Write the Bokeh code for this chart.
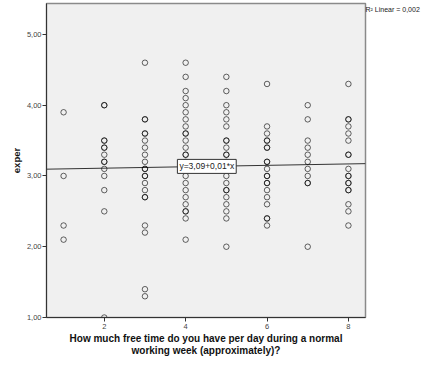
from bokeh.plotting import figure
from bokeh.models import Label, FixedTicker, Range1d, LinearAxis
from bokeh.embed import file_html
from bokeh.resources import INLINE

# ---- data ----
x1 = [3.9, 3.0, 2.3, 2.1]
x2 = [4.0, 4.0, 3.5, 3.5, 3.4, 3.4, 3.3, 3.2, 3.2, 3.1, 3.0, 2.8, 2.5, 1.0]
x3 = [4.6, 3.8, 3.8, 3.6, 3.6, 3.5, 3.4, 3.3, 3.2, 3.1, 3.1, 3.0, 3.0, 2.9, 2.8, 2.7, 2.7, 2.3, 2.2, 1.4, 1.3]
x4 = [4.6, 4.4, 4.2, 4.1, 4.0, 3.9, 3.8, 3.7, 3.6, 3.6, 3.5, 3.4, 3.3, 3.3, 3.2, 3.1,
      3.0, 2.9, 2.8, 2.7, 2.6, 2.5, 2.5, 2.4, 2.1]
x5 = [4.4, 4.2, 4.0, 3.9, 3.8, 3.7, 3.5, 3.5, 3.4, 3.3, 3.3, 3.2, 3.1,
      3.0, 2.9, 2.8, 2.8, 2.7, 2.6, 2.5, 2.4, 2.0]
x6 = [4.3, 3.7, 3.6, 3.5, 3.5, 3.4, 3.4, 3.2, 3.2, 3.1, 3.0, 3.0, 2.9, 2.9, 2.8, 2.7, 2.6, 2.4, 2.4, 2.3]
x7 = [4.0, 3.8, 3.5, 3.4, 3.3, 3.2, 3.1, 3.0, 2.9, 2.9, 2.0]
x8 = [4.3, 3.8, 3.8, 3.7, 3.6, 3.5, 3.3, 3.3, 3.1, 3.0, 3.0, 2.9, 2.9, 2.8, 2.8, 2.6, 2.5, 2.3]
free_time_levels = [1, 2, 3, 4, 5, 6, 7, 8]
exper_by_level = [x1, x2, x3, x4, x5, x6, x7, x8]

fit_intercept = 3.09
fit_slope = 0.01
r_squared = "0,002"

y_ticks = [1, 2, 3, 4, 5]
y_tick_labels = ["1,00", "2,00", "3,00", "4,00", "5,00"]
x_ticks = [2, 4, 6, 8]
x_tick_labels = ["2", "4", "6", "8"]

x_title = "How much free time do you have per day during a normal\nworking week (approximately)?"
y_title = "exper"
r2_text = "R\u00b2 Linear = " + r_squared

# ---- build point table ----
xs, ys = [], []
for lvl, vals in zip(free_time_levels, exper_by_level):
    for v in vals:
        xs.append(lvl)
        ys.append(v)

FONT = "Liberation Sans"
x_start, x_end = 0.58, 8.42
y_start, y_end = 1.0, 5.437

p = figure(width=422, height=367, output_backend="svg", toolbar_location=None,
           x_range=Range1d(x_start, x_end), y_range=Range1d(y_start, y_end),
           min_border_left=46, min_border_right=57, min_border_top=3, min_border_bottom=50)
p.background_fill_color = "#f0f0f0"
p.border_fill_color = "white"
p.outline_line_color = "#8a8a8a"
p.outline_line_width = 1.5
p.xgrid.visible = False
p.ygrid.visible = False

# regression line across the whole frame
lx = [x_start, x_end]
ly = [fit_intercept + fit_slope * v for v in lx]
p.line(lx, ly, line_color="#333333", line_width=1)

p.scatter(xs, ys, marker="circle", size=5.5, fill_color=None,
          line_color="black", line_alpha=0.6, line_width=1)

# axes
for ax in (p.xaxis, p.yaxis):
    ax.axis_line_color = "#333333"
    ax.major_tick_line_color = "#333333"
    ax.minor_tick_line_color = None
    ax.major_tick_in = 0
    ax.major_tick_out = 4
    ax.major_label_text_font = FONT
    ax.major_label_text_font_size = "7.5px"
    ax.major_label_text_color = "#444444"
    ax.axis_label_text_font = FONT
    ax.axis_label_text_font_style = "bold"
    ax.axis_label_text_color = "#111111"

p.yaxis.ticker = FixedTicker(ticks=y_ticks)
p.yaxis.major_label_overrides = dict(zip(y_ticks, y_tick_labels))
p.yaxis.major_label_standoff = 1
p.yaxis.axis_label = y_title
p.yaxis.axis_label_text_font_size = "9.5px"
p.yaxis.axis_label_standoff = 2

p.xaxis.ticker = FixedTicker(ticks=x_ticks)
p.xaxis.major_label_overrides = dict(zip(x_ticks, x_tick_labels))
p.xaxis.major_label_standoff = 2
p.xaxis.axis_label = x_title
p.xaxis.axis_label_text_font_size = "10px"
p.xaxis.axis_label_text_line_height = 1.1
p.xaxis.axis_label_standoff = 1

# equation label
eq_x = 4.52
eq = Label(x=eq_x, y=fit_intercept + fit_slope * eq_x,
           text="y=3,09+0,01*x", text_align="center", text_baseline="middle",
           text_font=FONT, text_font_size="8.5px", text_color="#222222",
           background_fill_color="white", border_line_color="#333333",
           border_line_width=1, padding=2)
p.add_layout(eq)

# R² legend text, drawn as a label on a bare right-hand axis next to the frame top
r2_pos = 5.352
r2_axis = LinearAxis(ticker=FixedTicker(ticks=[r2_pos]),
                     major_label_overrides={r2_pos: r2_text},
                     axis_line_color=None, major_tick_line_color=None,
                     minor_tick_line_color=None, major_tick_out=0, major_tick_in=0,
                     major_label_standoff=0,
                     major_label_text_font=FONT, major_label_text_font_size="7px",
                     major_label_text_color="#222222")
p.add_layout(r2_axis, "right")

open("out.html", "w").write(file_html(p, INLINE))
